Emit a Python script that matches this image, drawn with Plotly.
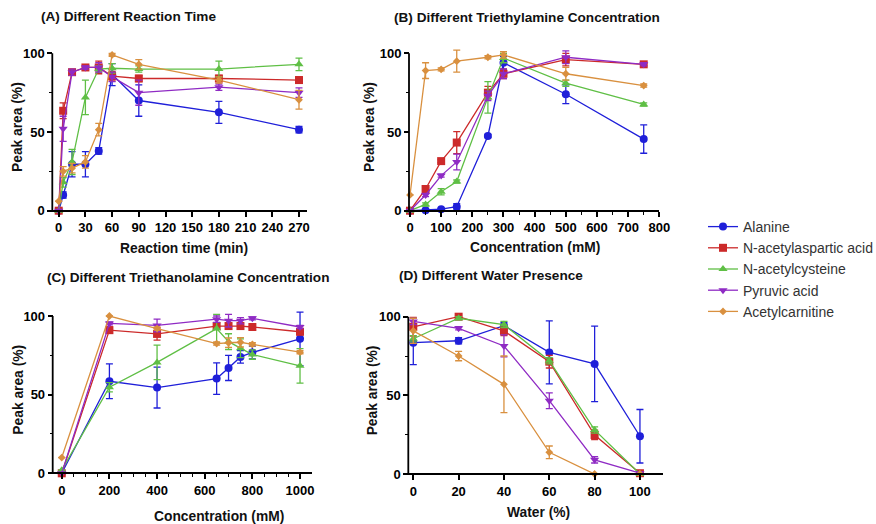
import plotly.graph_objects as go

W, H = 876, 524

compounds = ["Alanine", "N-acetylaspartic acid", "N-acetylcysteine", "Pyruvic acid", "Acetylcarnitine"]
colors = ["#1f1fd9", "#cc2a2a", "#5fbf45", "#8f2bc4", "#d9903f"]
symbols = ["circle", "square", "triangle-up", "triangle-down", "diamond"]
sizes = [8, 8, 8, 8, 6]

# (A) reaction time
time_min = [0, 5, 15, 30, 45, 60, 90, 180, 270]
a_vals = [
    [0, 10, 29.5, 29.5, 38, 86.5, 70, 62.5, 51.5],
    [0, 63.5, 88, 91, 91, 85.5, 84, 84, 83],
    [0, 18, 31, 72, 90, 90.5, 90, 90, 93],
    [0, 52, 88, 91, 91, 85, 75, 78.5, 75],
    [6, 25, 27, 31, 51.5, 99, 93, 83, 70.5],
]
a_err = [
    [0, 2, 8, 8, 2, 7, 10, 7, 2],
    [0, 5, 1, 1, 4, 3, 2, 2, 2],
    [0, 3, 8, 11, 2, 3, 2, 5, 4],
    [0, 8, 2, 1, 3, 3, 8, 2, 3],
    [0, 3, 3, 4, 4, 1, 3, 2, 6],
]

# (B) triethylamine concentration
tea_mm = [0, 50, 100, 150, 250, 300, 500, 750]
b_vals = [
    [0, 0.3, 1, 2.5, 47.5, 94, 74, 45.5],
    [0, 13.8, 31.5, 43.3, 75, 87, 96, 93],
    [0, 4, 12, 18.5, 72, 97, 81, 67.5],
    [0, 10, 22.3, 31, 73, 87, 97.5, 93],
    [10, 89, 89.8, 95, 97.5, 99, 87, 79.5],
]
b_err = [
    [0, 0, 0.5, 2, 1, 4, 6, 9],
    [0, 1, 1, 7, 4, 3, 4, 1],
    [0, 1, 2, 1, 10, 3, 2, 1],
    [0, 1, 1, 5, 3, 3, 4, 1],
    [0, 5, 1, 7, 1, 2, 4, 1],
]

# (C) triethanolamine concentration
teoa_mm = [0, 200, 400, 650, 700, 750, 800, 1000]
c_vals = [
    [0, 58.5, 54.5, 60.2, 67, 74, 76.8, 85.5],
    [0, 91, 88.6, 93.6, 93.6, 93.6, 93, 90],
    [2, 54.7, 70.5, 92, 83.7, 79.5, 75.5, 68.3],
    [0, 95.3, 94, 98, 97, 97, 98.5, 93],
    [10, 100, 92, 82.5, 83, 83.3, 82, 77],
]
c_err = [
    [0, 11, 13, 10, 8, 4, 4, 17],
    [0, 2, 4, 2, 2, 2, 1, 2],
    [0, 3, 11, 9, 5, 6, 3, 11],
    [0, 1, 4, 2, 4, 2, 1, 1],
    [0, 0, 1, 1, 3, 3, 1, 1],
]

# (D) water content
water_pct = [0, 20, 40, 60, 80, 100]
d_vals = [
    [83.5, 84.7, 94.3, 77.3, 70, 24],
    [93.6, 100, 91, 71.4, 24.8, 0.5],
    [86, 99, 95, 72, 28, 0],
    [97, 92.6, 81.4, 46.6, 9, 0.5],
    [91, 75, 57, 13.8, 0, 0],
]
d_err = [
    [14, 2, 2, 20, 24, 17],
    [6, 1, 3, 4, 3, 0.5],
    [2, 1, 2, 2, 2, 0],
    [2, 1, 7, 5, 2, 0],
    [8, 3, 18, 4, 0, 0],
]

y_ticks = [0, 50, 100]
y_minor = [25, 75]

FONT = "Liberation Sans, Arial, sans-serif"
TICK_SIZE = 13
AXIS_TITLE_SIZE = 13.8
PANEL_TITLE_SIZE = 13.6


def fx(p):
    return p / W


def fy(p):
    return 1 - p / H


# panel geometry in pixels: y-axis line x, x-axis right end, x range, y px of 0 and 100
panels = [
    dict(key="", xl=52.3, xr=307, xr_=[-7.2, 279], y0=210.7, y100=53.3,
         x=time_min, vals=a_vals, err=a_err,
         xticks=list(range(0, 271, 30)), xminor=None,
         title="(A) Different Reaction Time", tx=39, ty=16,
         xtitle="Reaction time (min)", xtx=184, xty=248, ytx=17),
    dict(key="2", xl=409, xr=659.3, xr_=[-3.2, 800], y0=210.7, y100=53.3,
         x=tea_mm, vals=b_vals, err=b_err,
         xticks=list(range(0, 801, 100)), xminor=list(range(50, 800, 100)),
         title="(B) Different Triethylamine Concentration", tx=392, ty=17,
         xtitle="Concentration (mM)", xtx=535, xty=247, ytx=369),
    dict(key="3", xl=52.7, xr=311.7, xr_=[-38, 1049], y0=473.3, y100=316,
         x=teoa_mm, vals=c_vals, err=c_err,
         xticks=list(range(0, 1001, 200)), xminor=[v for v in range(50, 1001, 50) if v % 200],
         title="(C) Different Triethanolamine Concentration", tx=45, ty=277,
         xtitle="Concentration (mM)", xtx=219, xty=516, ytx=19),
    dict(key="4", xl=408.3, xr=663.3, xr_=[-2.2, 110.3], y0=474, y100=316.7,
         x=water_pct, vals=d_vals, err=d_err,
         xticks=list(range(0, 101, 20)), xminor=None,
         title="(D) Different Water Presence", tx=397, ty=275,
         xtitle="Water (%)", xtx=538, xty=512, ytx=372),
]

fig = go.Figure()
layout = {}
annotations = []
shapes = []

for pi, p in enumerate(panels):
    k = p["key"]
    s = (p["y0"] - p["y100"]) / 100.0
    ylo, yhi = -4, 106
    top = p["y100"] - (yhi - 100) * s
    bot = p["y0"] - ylo * s
    ydom = [fy(bot), fy(top)]
    xdom = [fx(p["xl"]), fx(p["xr"])]

    xa = dict(domain=xdom, range=p["xr_"], anchor="free", position=fy(p["y0"]),
              showline=True, linecolor="black", linewidth=1.8,
              ticks="outside", ticklen=5, tickwidth=1.6, tickcolor="black",
              tickvals=p["xticks"], ticktext=[str(v) for v in p["xticks"]],
              tickfont=dict(family=FONT, size=TICK_SIZE, color="black", weight="bold"),
              showgrid=False, zeroline=False, automargin=False)
    if p["xminor"]:
        xa["minor"] = dict(tickvals=p["xminor"], ticks="outside", ticklen=3,
                           tickwidth=1.4, tickcolor="black", showgrid=False)
    ya = dict(domain=ydom, range=[ylo, yhi], anchor="free", position=fx(p["xl"]),
              showline=False, ticks="outside", ticklen=5, tickwidth=1.6, tickcolor="black",
              tickvals=y_ticks, ticktext=[str(v) for v in y_ticks],
              tickfont=dict(family=FONT, size=TICK_SIZE, color="black", weight="bold"),
              minor=dict(tickvals=y_minor, ticks="outside", ticklen=3, tickwidth=1.4,
                         tickcolor="black", showgrid=False),
              showgrid=False, zeroline=False, automargin=False)
    layout["xaxis" + k] = xa
    layout["yaxis" + k] = ya

    # y-axis spine from 0 to 100
    shapes.append(dict(type="line", xref="paper", yref="y" + k,
                       x0=fx(p["xl"]), x1=fx(p["xl"]), y0=0, y1=100,
                       line=dict(color="black", width=1.8)))

    for ci in range(len(compounds)):
        fig.add_trace(go.Scatter(
            x=p["x"], y=p["vals"][ci], xaxis="x" + k, yaxis="y" + k,
            mode="lines+markers", name=compounds[ci], showlegend=(pi == 0),
            line=dict(color=colors[ci], width=1.3),
            marker=dict(symbol=symbols[ci], size=sizes[ci], color=colors[ci],
                        line=dict(width=0)),
            error_y=dict(type="data", array=p["err"][ci], visible=True,
                         color=colors[ci], thickness=1.3, width=3.5),
            cliponaxis=False,
        ))

    annotations.append(dict(text="<b>" + p["title"] + "</b>", xref="paper", yref="paper",
                            x=fx(p["tx"]), y=fy(p["ty"]), xanchor="left", yanchor="middle",
                            showarrow=False,
                            font=dict(family=FONT, size=PANEL_TITLE_SIZE, color="#111")))
    annotations.append(dict(text="<b>" + p["xtitle"] + "</b>", xref="paper", yref="paper",
                            x=fx(p["xtx"]), y=fy(p["xty"]), xanchor="center", yanchor="middle",
                            showarrow=False,
                            font=dict(family=FONT, size=AXIS_TITLE_SIZE, color="#111")))
    annotations.append(dict(text="<b>Peak area (%)</b>", xref="paper", yref="paper",
                            x=fx(p["ytx"]), y=fy((p["y0"] + p["y100"]) / 2 - 5),
                            xanchor="center", yanchor="middle", textangle=-90,
                            showarrow=False,
                            font=dict(family=FONT, size=AXIS_TITLE_SIZE, color="#111")))

fig.update_layout(
    width=W, height=H, margin=dict(l=0, r=0, t=0, b=0, autoexpand=False),
    paper_bgcolor="white", plot_bgcolor="white",
    annotations=annotations, shapes=shapes,
    legend=dict(x=fx(703), y=fy(211), xanchor="left", yanchor="top",
                font=dict(family=FONT, size=14, color="#333"),
                bgcolor="rgba(0,0,0,0)", itemwidth=30),
    **layout,
)

fig.write_html("out.html")
